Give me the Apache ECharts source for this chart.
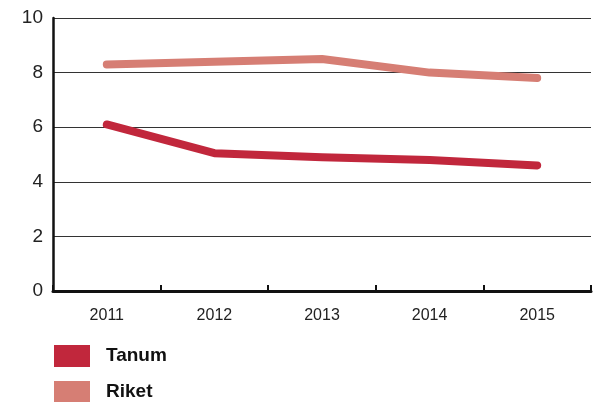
<!DOCTYPE html>
<html>
<head>
<meta charset="utf-8">
<script src="https://cdn.jsdelivr.net/npm/echarts@6/dist/echarts.min.js"></script>
<style>
  html, body { margin: 0; padding: 0; background: #fff; }
  #chart { width: 598px; height: 402px; }
</style>
</head>
<body>
<div id="chart"></div>
<script>
// data
var years = ['2011', '2012', '2013', '2014', '2015'];
var tanum = [6.1, 5.05, 4.9, 4.8, 4.6];
var riket = [8.3, 8.4, 8.5, 8.0, 7.8];
var yTicks = { min: 0, max: 10, interval: 2 };

// one legend block per series so they stack even at the bottom edge
function legendBlock(name, top) {
  return {
    orient: 'vertical',
    left: 54,
    top: top,
    itemWidth: 36,
    itemHeight: 22,
    icon: 'rect',
    padding: 0,
    textStyle: {
      fontFamily: 'Liberation Sans',
      fontSize: 19,
      fontWeight: 'bold',
      color: '#111',
      padding: [0, 0, 0, 11]
    },
    data: [name]
  };
}

var chart = echarts.init(document.getElementById('chart'));
var option = {
  animation: false,
  textStyle: { fontFamily: 'Liberation Sans' },
  grid: { left: 53, right: 7, top: 18, bottom: 111 },
  legend: [legendBlock('Tanum', 345), legendBlock('Riket', 381)],
  xAxis: {
    type: 'category',
    data: years,
    boundaryGap: true,
    axisLine: { lineStyle: { color: '#111', width: 3 } },
    axisTick: { show: true, inside: true, length: 6, lineStyle: { color: '#111', width: 2 } },
    axisLabel: { color: '#222', fontSize: 16, margin: 17 }
  },
  yAxis: {
    type: 'value',
    min: yTicks.min,
    max: yTicks.max,
    interval: yTicks.interval,
    axisLine: { show: true, lineStyle: { color: '#111', width: 2.5 } },
    axisTick: { show: false },
    axisLabel: { color: '#222', fontSize: 19, margin: 10 },
    splitLine: { lineStyle: { color: '#333', width: 1 } }
  },
  series: [
    {
      name: 'Tanum',
      type: 'line',
      data: tanum,
      symbol: 'none',
      itemStyle: { color: '#c1273c' },
      lineStyle: { color: '#c1273c', width: 8, cap: 'round', join: 'round' }
    },
    {
      name: 'Riket',
      type: 'line',
      data: riket,
      symbol: 'none',
      itemStyle: { color: '#d67e74' },
      lineStyle: { color: '#d67e74', width: 8, cap: 'round', join: 'round' }
    }
  ]
};
chart.setOption(option);
</script>
</body>
</html>
